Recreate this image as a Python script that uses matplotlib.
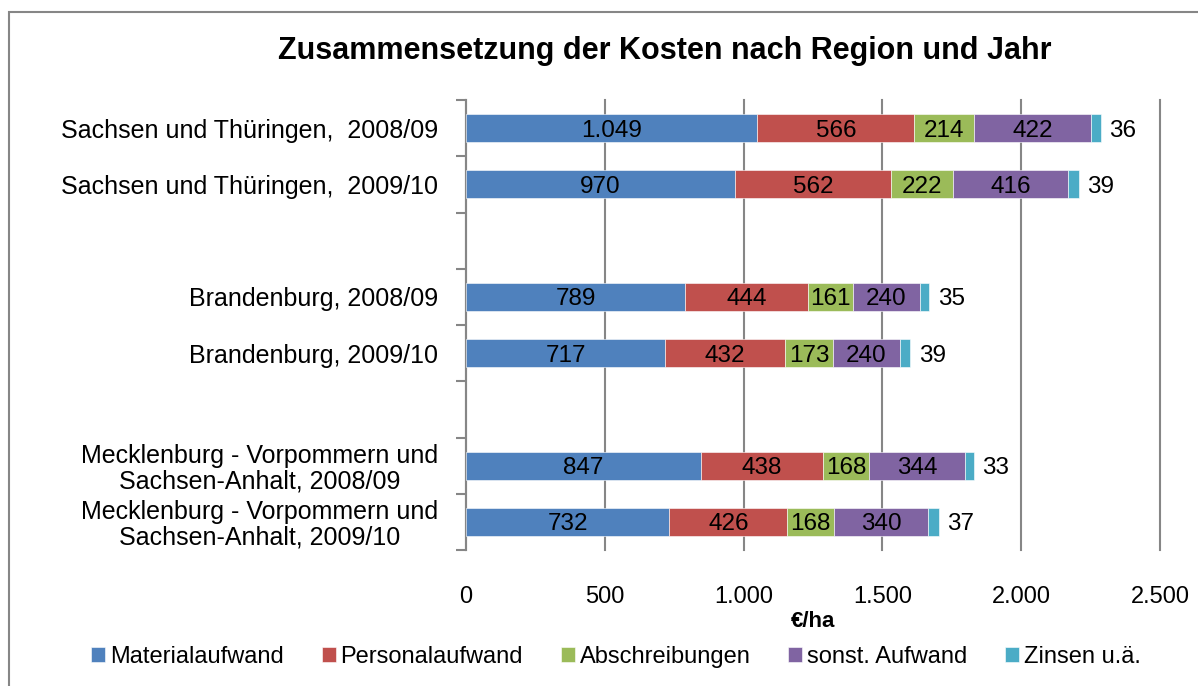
import matplotlib.pyplot as plt
import matplotlib.patches as mpatches
import numpy as np

plt.rcParams['font.family'] = ['Liberation Sans', 'DejaVu Sans']

# categories, top to bottom ('' = empty slot between the regions)
labels = ['Sachsen und Thüringen,  2008/09',
          'Sachsen und Thüringen,  2009/10',
          'Brandenburg, 2008/09',
          'Brandenburg, 2009/10',
          'Mecklenburg - Vorpommern und\nSachsen-Anhalt, 2008/09',
          'Mecklenburg - Vorpommern und\nSachsen-Anhalt, 2009/10']
slots = [0, 1, 3, 4, 6, 7]

series = ['Materialaufwand', 'Personalaufwand', 'Abschreibungen',
          'sonst. Aufwand', 'Zinsen u.ä.']
material = [1049, 970, 789, 717, 847, 732]
personal = [566, 562, 444, 432, 438, 426]
abschreib = [214, 222, 161, 173, 168, 168]
sonst = [422, 416, 240, 240, 344, 340]
zinsen = [36, 39, 35, 39, 33, 37]
colors = ['#4F81BD', '#C0504D', '#9BBB59', '#8064A2', '#4BACC6']

def de(v):
    # German thousands separator
    return f'{v:,.0f}'.replace(',', '.')

fig = plt.figure(figsize=(11.98, 6.86), dpi=100)
ax = fig.add_axes([466 / 1198, 1 - 550 / 686, 694 / 1198, 450 / 686])

# frame around the whole chart (cut off at right/bottom in the original)
fig.patches.append(mpatches.Rectangle((9 / 1198, -0.1), 1.2, 1.1 - 12 / 686,
                   transform=fig.transFigure, fill=False,
                   edgecolor='#868686', linewidth=1.5))

y = np.array(slots) + 0.5
left = np.zeros(len(y))
vals = [material, personal, abschreib, sonst, zinsen]
for i, (v, c, name) in enumerate(zip(vals, colors, series)):
    v = np.array(v)
    ax.barh(y, v, left=left, height=0.5, color=c, label=name,
            edgecolor='white', linewidth=0.4, zorder=3)
    for yy, l, w in zip(y, left, v):
        if i < 4:
            ax.text(l + w / 2, yy, de(w), ha='center', va='center_baseline',
                    fontsize=17.5, color='black', zorder=4)
        else:
            ax.text(l + w + 30, yy, de(w), ha='left', va='center_baseline',
                    fontsize=17.5, color='black', zorder=4)
    left = left + v

ax.set_xlim(0, 2500)
ax.set_ylim(8, 0)
ax.set_xticks(np.arange(0, 2501, 500))
ax.set_xticklabels([de(t) for t in np.arange(0, 2501, 500)], fontsize=17)
ax.tick_params(axis='x', length=0, pad=26)
ax.grid(axis='x', color='#868686', linewidth=1.5, zorder=0)
for g in ax.get_xgridlines():
    g.set_clip_on(False)

ax.set_yticks(y)
ax.set_yticklabels(labels, fontsize=18, linespacing=1.05)
for t in ax.get_yticklabels():
    t.set_multialignment('center')
ax.set_yticks(np.arange(0, 9), minor=True)
ax.tick_params(axis='y', which='major', length=0, pad=20)
ax.tick_params(axis='y', which='minor', length=7, width=1.5, color='#868686')

for s in ['top', 'right', 'bottom']:
    ax.spines[s].set_visible(False)
ax.spines['left'].set_color('#868686')
ax.spines['left'].set_linewidth(1.5)

ax.set_xlabel('€/ha', fontsize=16, fontweight='bold', labelpad=2)
fig.text(665 / 1198, 1 - 51 / 686, 'Zusammensetzung der Kosten nach Region und Jahr',
         ha='center', va='center', fontsize=22, fontweight='bold')

fig.legend(loc='center', bbox_to_anchor=(616 / 1198, 1 - 657 / 686), ncol=5,
           frameon=False, fontsize=17, handlelength=0.6, handleheight=0.6,
           handletextpad=0.2, columnspacing=1.6)

fig.savefig('out.png', dpi=100)
